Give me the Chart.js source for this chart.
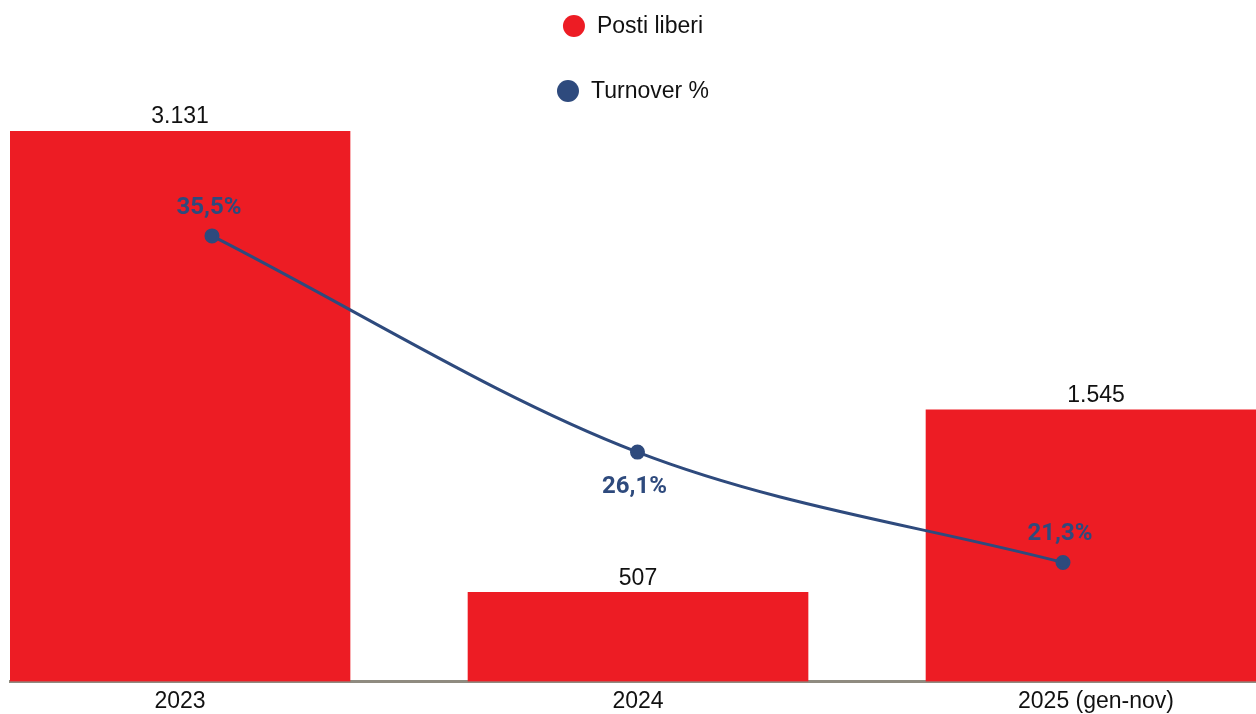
<!DOCTYPE html>
<html>
<head>
<meta charset="utf-8">
<script src="https://cdn.jsdelivr.net/npm/chart.js@4"></script>
<style>
  html, body { margin: 0; padding: 0; background: #fff; overflow: hidden; }
  canvas { display: block; }
</style>
</head>
<body>
<canvas id="chartPosti" width="1256" height="714"></canvas>
<script>
// data
var categories = ["2023", "2024", "2025 (gen-nov)"];
var postiLiberi = [3131, 507, 1545];
var turnover = [35.5, 26.1, 21.3];
var seriesNames = ["Posti liberi", "Turnover %"];
var turnoverLabelPos = ["top", "bottom", "top"];

var colorBar = "#ED1C24";
var colorLine = "#2E4A7D";
var fontMain = "'Liberation Sans', Arial, sans-serif";

function fmtInt(v) {
    return v.toString().replace(/\B(?=(\d{3})+(?!\d))/g, ".");
}
function fmtPct(v) {
    return v.toFixed(1).replace(".", ",") + "%";
}

// legend, one item per row, centred over the plot
var legendRows = {
    id: "legendRows",
    afterDraw: function (chart) {
        var ctx = chart.ctx;
        var cx = (chart.chartArea.left + chart.width) / 2;
        var rowsY = [26, 91];
        ctx.save();
        ctx.font = "23px " + fontMain;
        ctx.textBaseline = "middle";
        chart.data.datasets.forEach(function (ds, i) {
            var w = ctx.measureText(ds.label).width;
            var total = 22 + 12 + w;
            var x0 = cx - total / 2;
            ctx.fillStyle = ds.legendColor;
            ctx.beginPath();
            ctx.arc(x0 + 11, rowsY[i], 11, 0, Math.PI * 2);
            ctx.fill();
            ctx.fillStyle = "#111";
            ctx.textAlign = "left";
            ctx.fillText(ds.label, x0 + 34, rowsY[i] + 1);
        });
        ctx.restore();
    }
};

// value labels on bars and points
var valueLabels = {
    id: "valueLabels",
    afterDatasetsDraw: function (chart) {
        var ctx = chart.ctx;
        ctx.save();
        ctx.textAlign = "center";
        ctx.textBaseline = "middle";
        var barMeta = chart.getDatasetMeta(0);
        ctx.font = "23px " + fontMain;
        ctx.fillStyle = "#111";
        barMeta.data.forEach(function (el, i) {
            ctx.fillText(fmtInt(postiLiberi[i]), el.x, el.y - 14);
        });
        var lineMeta = chart.getDatasetMeta(1);
        ctx.font = "bold 24px Roboto, 'Liberation Sans', sans-serif";
        ctx.fillStyle = colorLine;
        lineMeta.data.forEach(function (el, i) {
            var dy = turnoverLabelPos[i] === "top" ? -28 : 35;
            ctx.fillText(fmtPct(turnover[i]), el.x - 3, el.y + dy);
        });
        ctx.restore();
    }
};

new Chart(document.getElementById("chartPosti").getContext("2d"), {
    data: {
        datasets: [
            {
                type: "bar",
                label: seriesNames[0],
                data: postiLiberi.map(function (v, i) { return {x: i, y: v}; }),
                backgroundColor: colorBar,
                legendColor: colorBar,
                grouped: false,
                categoryPercentage: 1,
                barPercentage: 1,
                maxBarThickness: 340,
                xAxisID: "x",
                yAxisID: "y",
                order: 2
            },
            {
                type: "line",
                label: seriesNames[1],
                data: turnover.map(function (v, i) { return {x: i, y: v}; }),
                borderColor: colorLine,
                backgroundColor: colorLine,
                legendColor: colorLine,
                borderWidth: 3,
                pointRadius: 6,
                pointHoverRadius: 6,
                cubicInterpolationMode: "monotone",
                xAxisID: "x2",
                yAxisID: "y2",
                order: 1
            }
        ]
    },
    options: {
        responsive: false,
        animation: false,
        layout: { autoPadding: false, padding: { top: 131, left: 10, right: 0, bottom: -7 } },
        plugins: {
            legend: { display: false },
            tooltip: { enabled: false }
        },
        scales: {
            x: {
                type: "linear",
                offset: false,
                min: -0.3712,
                max: 2.3493,
                afterBuildTicks: function (scale) {
                    scale.ticks = categories.map(function (c, i) { return {value: i}; });
                },
                afterFit: function (scale) {
                    scale.paddingLeft = 0;
                    scale.paddingRight = 0;
                },
                ticks: {
                    autoSkip: false,
                    maxRotation: 0,
                    padding: 6,
                    color: "#111",
                    font: { family: fontMain, size: 23 },
                    callback: function (v) { return categories[v]; }
                },
                grid: { display: false, drawTicks: false },
                border: { display: true, color: "#8f8b80", width: 3 }
            },
            x2: {
                type: "linear",
                display: false,
                offset: false,
                min: -0.4747,
                max: 2.4536
            },
            y: {
                display: false,
                min: 0,
                max: 3131
            },
            y2: {
                display: false,
                position: "right",
                min: 16.13,
                max: 40.06
            }
        }
    },
    plugins: [legendRows, valueLabels]
});
</script>
</body>
</html>
